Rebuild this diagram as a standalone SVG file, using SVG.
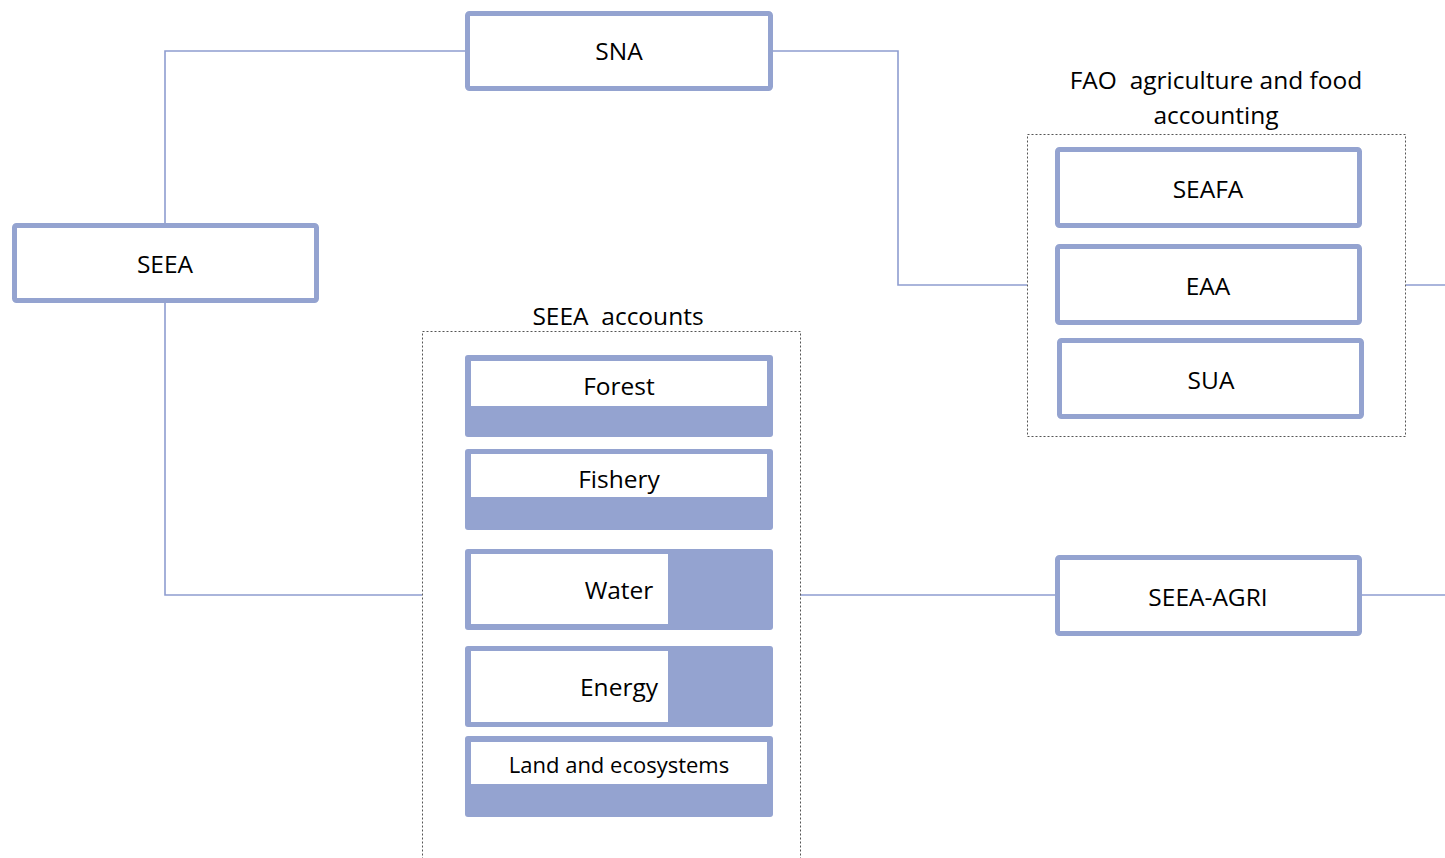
<svg xmlns="http://www.w3.org/2000/svg" width="1445" height="858" viewBox="0 0 1445 858">
<style>
.box{fill:#fff;stroke:#94A3D0;stroke-width:5}
.acc{fill:#94A3D0}
.inner{fill:#fff}
.grp{fill:none;stroke:#555;stroke-width:1;stroke-dasharray:2 2}
.ln{fill:none;stroke:#8E9DD0;stroke-width:1.6}
text{font-family:"Open Sans","Liberation Sans",sans-serif;font-size:24.5px;fill:#000;text-anchor:middle;white-space:pre}
.sm{font-size:22px}
</style>
<rect width="1445" height="858" fill="#fff"/>
<g id="connectors">
<polyline class="ln" points="467,51 165,51 165,225"/>
<polyline class="ln" points="165,301 165,595 422,595"/>
<polyline class="ln" points="771,51 898,51 898,285 1027,285"/>
<line class="ln" x1="1406" y1="285" x2="1445" y2="285"/>
<line class="ln" x1="800" y1="595" x2="1057" y2="595"/>
<line class="ln" x1="1360" y1="595" x2="1445" y2="595"/>
</g>
<g id="SNA"><rect class="box" x="467.5" y="13.5" width="303" height="75" rx="2"/><text x="619" y="60">SNA</text></g>
<g id="SEEA"><rect class="box" x="14.5" y="225.5" width="302" height="75" rx="2"/><text x="165" y="273">SEEA</text></g>
<g id="FAO">
<rect class="grp" x="1027.5" y="134.5" width="378" height="302"/>
<text x="1216" y="89" xml:space="preserve">FAO  agriculture and food</text>
<text x="1216" y="124">accounting</text>
</g>
<g id="SEAFA"><rect class="box" x="1057.5" y="149.5" width="302" height="76" rx="2"/><text x="1208" y="198">SEAFA</text></g>
<g id="EAA"><rect class="box" x="1057.5" y="246.5" width="302" height="76" rx="2"/><text x="1208" y="295">EAA</text></g>
<g id="SUA"><rect class="box" x="1059.5" y="340.5" width="302" height="76" rx="2"/><text x="1211" y="389">SUA</text></g>
<g id="SEEA-AGRI"><rect class="box" x="1057.5" y="557.5" width="302" height="76" rx="2"/><text x="1208" y="606">SEEA-AGRI</text></g>
<g id="SEEA-accounts">
<rect class="grp" x="422.5" y="331.5" width="378" height="540"/>
<text x="618" y="325" xml:space="preserve">SEEA  accounts</text>
</g>
<g id="Forest"><rect class="acc" x="465" y="355" width="308" height="82" rx="3"/><rect class="inner" x="471" y="361" width="296" height="45"/><text x="619" y="395">Forest</text></g>
<g id="Fishery"><rect class="acc" x="465" y="449" width="308" height="81" rx="3"/><rect class="inner" x="471" y="454" width="296" height="43"/><text x="619" y="488">Fishery</text></g>
<g id="Water"><rect class="acc" x="465" y="549" width="308" height="81" rx="3"/><rect class="inner" x="471" y="554" width="197" height="70"/><text x="619" y="599">Water</text></g>
<g id="Energy"><rect class="acc" x="465" y="646" width="308" height="81" rx="3"/><rect class="inner" x="471" y="651" width="197" height="71"/><text x="619" y="696">Energy</text></g>
<g id="Land"><rect class="acc" x="465" y="736" width="308" height="81" rx="3"/><rect class="inner" x="471" y="742" width="296" height="42"/><text class="sm" x="619" y="773">Land and ecosystems</text></g>
</svg>
